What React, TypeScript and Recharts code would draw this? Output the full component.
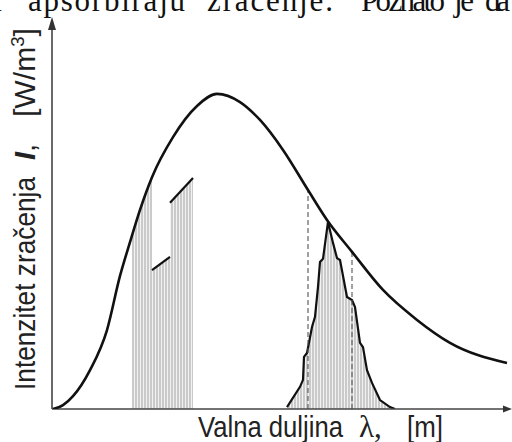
import React from 'react';
import { ComposedChart, Line, Area, XAxis, YAxis, ReferenceLine, ReferenceDot } from 'recharts';

// Planck-like emission curve (wavelength in arbitrary units, intensity in arbitrary units)
const curveLambda = [0.1, 1.1, 2.1, 3.8, 5.5, 6.8, 7.8, 8.8, 10.0, 12.1, 14.5, 16.5, 18.8, 20.8, 23.1, 25.6, 27.5, 30.0, 33.1, 36.5, 39.8, 45.5];
const curveIntensity = [0, 1.0, 3.3, 10.0, 20.3, 34.2, 42.9, 51.2, 59.6, 69.9, 77.9, 81.0, 78.9, 74.3, 66.6, 56.3, 48.6, 40.4, 30.6, 22.9, 17.0, 11.8];

// Narrow emission peak (right)
const peakLambda = [23.5, 24.8, 25.1, 25.2, 25.5, 26.0, 26.3, 26.6, 26.8, 27.1, 27.6, 28.1, 28.5, 28.8, 29.5, 30.0, 30.3, 30.8, 31.1, 31.5, 32.0, 32.8, 33.8, 34.3];
const peakIntensity = [0.5, 5.7, 7.5, 13.4, 14.4, 21.1, 23.7, 31.4, 37.8, 38.6, 48.1, 42.7, 38.8, 38.3, 28.8, 28.0, 26.2, 17.0, 15.9, 10.0, 6.7, 2.3, 0.5, 0];

// Absorption band (left)
const bandLambda = [8.0, 8.8, 10.0, 10.0, 11.8, 11.8, 14.1];
const bandIntensity = [45.4, 51.2, 59.6, 35.7, 39.1, 53.0, 59.4];

// Black edges of the band's lowered parts
const edgeStartLambda = [10.0, 11.8];
const edgeStartIntensity = [35.7, 53.0];
const edgeEndLambda = [11.8, 14.1];
const edgeEndIntensity = [39.1, 59.4];

// Dashed vertical markers
const dashLambda = [25.6, 30.0];
const dashTop = [56.3, 40.4];

// Axis extents
const lambdaMax = 45.8;
const intensityMax = 100;

const curveData = curveLambda.map((x, i) => ({ x, y: curveIntensity[i] }));
const peakData = peakLambda.map((x, i) => ({ x, y: peakIntensity[i] }));
const bandData = bandLambda.map((x, i) => ({ x, y: bandIntensity[i] }));

const sans = '"Liberation Sans", Arial, sans-serif';
const serif = '"Liberation Serif", "Times New Roman", serif';

const UpArrow = (p: any) => (
  <path d={`M${p.cx},${p.cy - 3} L${p.cx - 4},${p.cy + 10} L${p.cx + 4},${p.cy + 10} Z`} fill="#333" />
);
const RightArrow = (p: any) => (
  <path d={`M${p.cx + 2},${p.cy} L${p.cx - 7},${p.cy - 3.5} L${p.cx - 7},${p.cy + 3.5} Z`} fill="#333" />
);

export default function App() {
  return (
    <div style={{ position: 'absolute', left: 0, top: 0, width: 512, height: 442, background: '#fff', overflow: 'hidden' }}>
      <ComposedChart width={512} height={442} margin={{ top: 20, right: 2, bottom: 33, left: 52 }}>
        <defs>
          <pattern id="hatch" patternUnits="userSpaceOnUse" width="3" height="6">
            <rect x="0" y="0" width="3" height="6" fill="#f2f2f2" />
            <line x1="1" y1="0" x2="1" y2="6" stroke="#999" strokeWidth="0.9" />
          </pattern>
        </defs>
        <XAxis type="number" dataKey="x" domain={[0, lambdaMax]} allowDataOverflow height={0} tick={false} tickLine={false} axisLine={false} />
        <YAxis type="number" dataKey="y" domain={[0, intensityMax]} allowDataOverflow width={0} tick={false} tickLine={false} axisLine={false} />
        <Area data={bandData} dataKey="y" type="linear" stroke="none" fill="url(#hatch)" fillOpacity={1} isAnimationActive={false} />
        <Area data={peakData} dataKey="y" type="linear" stroke="#111" strokeWidth={2.2} fill="url(#hatch)" fillOpacity={1} isAnimationActive={false} />
        {edgeStartLambda.map((x, i) => (
          <ReferenceLine key={'e' + i} segment={[{ x, y: edgeStartIntensity[i] }, { x: edgeEndLambda[i], y: edgeEndIntensity[i] }]}
            stroke="#111" strokeWidth={2.2} />
        ))}
        {dashLambda.map((x, i) => (
          <ReferenceLine key={'d' + i} segment={[{ x, y: 0 }, { x, y: dashTop[i] }]} stroke="#555" strokeWidth={1.1} strokeDasharray="5 3" />
        ))}
        <ReferenceLine segment={[{ x: 0, y: 0 }, { x: 0, y: intensityMax }]} stroke="#444" strokeWidth={1.6} ifOverflow="visible" />
        <ReferenceLine segment={[{ x: 0, y: 0 }, { x: lambdaMax, y: 0 }]} stroke="#444" strokeWidth={1.6} ifOverflow="visible" />
        <Line data={curveData} dataKey="y" type="monotone" stroke="#111" strokeWidth={2.6} dot={false} isAnimationActive={false} />
        <ReferenceDot x={0} y={intensityMax} r={0} shape={UpArrow} ifOverflow="visible" />
        <ReferenceDot x={lambdaMax} y={0} r={0} shape={RightArrow} ifOverflow="visible" />

        <text fontFamily={serif} fontSize={31} fill="#111" lengthAdjust="spacingAndGlyphs">
          <tspan x={-6} y={11}>r</tspan>
          <tspan x={28} y={11} textLength={157}>apsorbiraju</tspan>
          <tspan x={207} y={11} textLength={126}>zračenje.</tspan>
          <tspan x={361} y={11} textLength={84}>Poznato</tspan>
          <tspan x={454} y={11} textLength={20}>je</tspan>
          <tspan x={485} y={11} textLength={25}>da</tspan>
          <tspan x={522} y={11}>su</tspan>
        </text>

        <text transform="translate(35,390) rotate(-90)" fontFamily={sans} fontSize={29} fill="#222" textLength={213} lengthAdjust="spacingAndGlyphs">
          {'Intenzitet zračenja'}
        </text>
        <text transform="translate(35,160) rotate(-90)" fontFamily={sans} fontSize={29} fill="#222">
          <tspan fontWeight="bold" fontStyle="italic">I</tspan>
          <tspan>,</tspan>
        </text>
        <text transform="translate(35,117) rotate(-90)" fontFamily={sans} fontSize={29} fill="#222" textLength={89} lengthAdjust="spacingAndGlyphs">
          <tspan>[W/m</tspan><tspan fontSize={18} dy={-11}>3</tspan><tspan dy={11}>]</tspan>
        </text>

        <text x={198} y={437} fontFamily={sans} fontSize={29} fill="#222" textLength={145} lengthAdjust="spacingAndGlyphs">{'Valna duljina'}</text>
        <text x={359} y={437} fontFamily={serif} fontSize={31} fill="#222">{'λ,'}</text>
        <text x={407} y={437} fontFamily={sans} fontSize={29} fill="#222" textLength={36} lengthAdjust="spacingAndGlyphs">{'[m]'}</text>
      </ComposedChart>
    </div>
  );
}
